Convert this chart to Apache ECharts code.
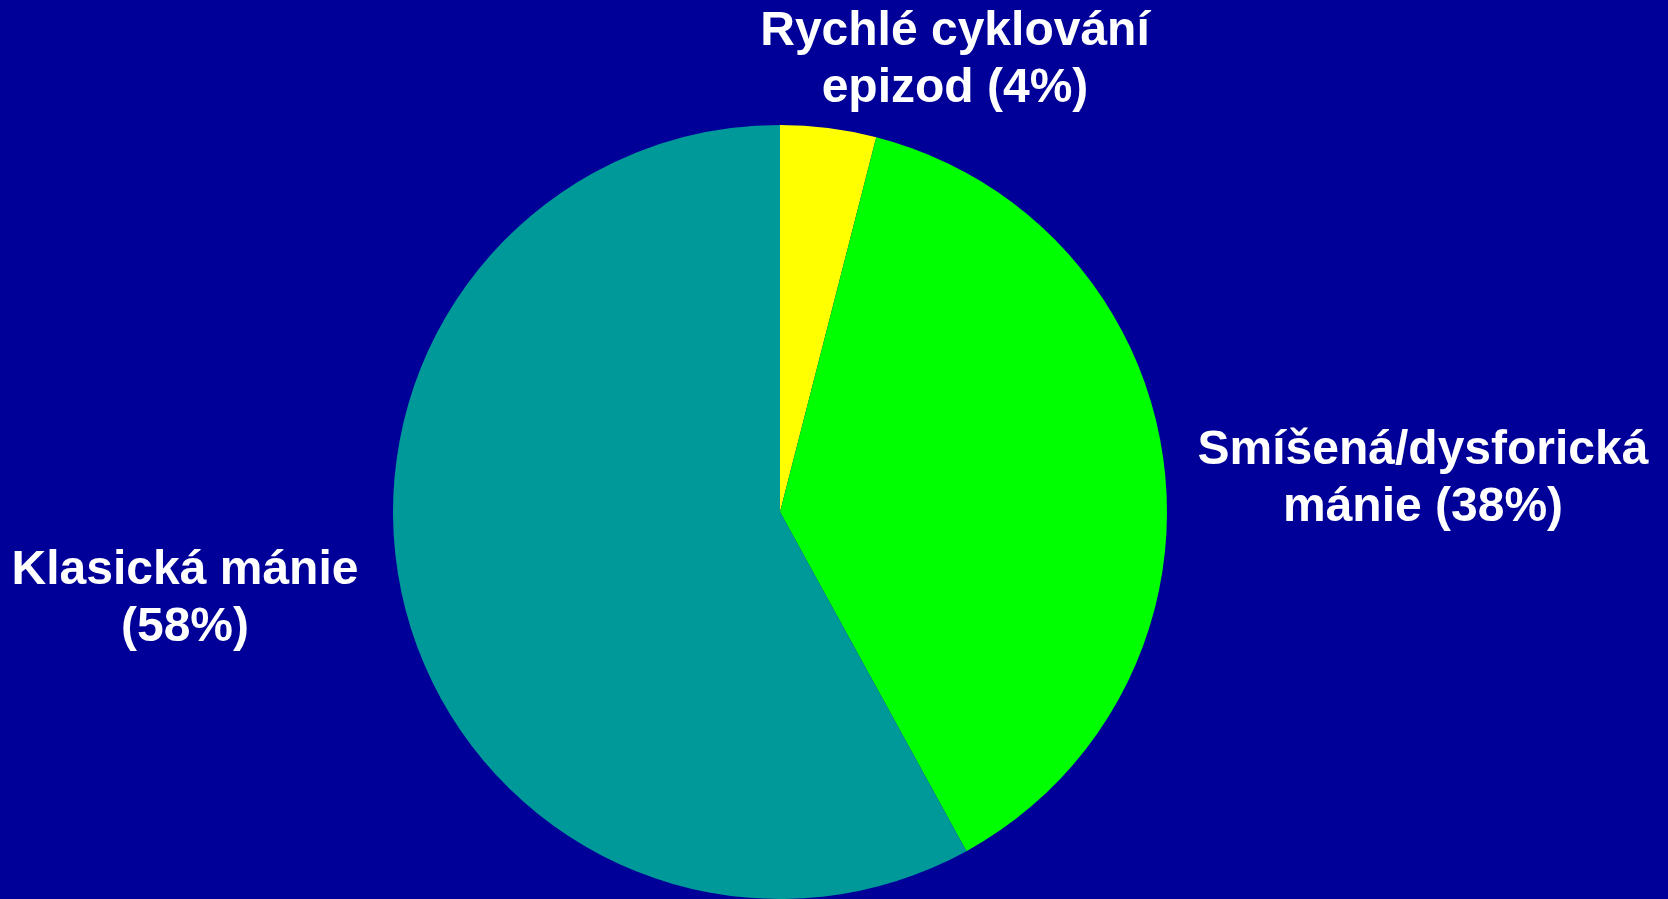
<!DOCTYPE html>
<html>
<head>
<meta charset="utf-8">
<script src="https://cdn.jsdelivr.net/npm/echarts@6/dist/echarts.min.js"></script>
<style>
html,body{margin:0;padding:0;background:#000099;}
#chart{width:1668px;height:899px;}
</style>
</head>
<body>
<div id="chart"></div>
<script>
const categories = ['Rychlé cyklování\nepizod', 'Smíšená/dysforická\nmánie', 'Klasická mánie\n'];
const values = [4, 38, 58];
const colors = ['#FFFF00', '#00FF00', '#009999'];
const labelPos = [[955, 60], [1423, 479], [185, 599]];

const chart = echarts.init(document.getElementById('chart'));
chart.setOption({
  backgroundColor: '#000099',
  animation: false,
  series: [{
    type: 'pie',
    center: [780, 512],
    radius: 387,
    startAngle: 90,
    clockwise: true,
    silent: true,
    data: categories.map((c, i) => ({ name: c, value: values[i], itemStyle: { color: colors[i] } })),
    label: {
      show: true,
      color: '#ffffff',
      fontFamily: "'Liberation Sans', Arial, sans-serif",
      fontWeight: 'bold',
      fontSize: 48,
      lineHeight: 57,
      align: 'center',
      overflow: 'none',
      formatter: p => p.name.endsWith('\n') ? p.name + '(' + p.value + '%)' : p.name + ' (' + p.value + '%)'
    },
    labelLine: { show: false },
    labelLayout: params => ({
      x: labelPos[params.dataIndex][0],
      y: labelPos[params.dataIndex][1],
      align: 'center',
      verticalAlign: 'middle'
    })
  }]
});
</script>
</body>
</html>
